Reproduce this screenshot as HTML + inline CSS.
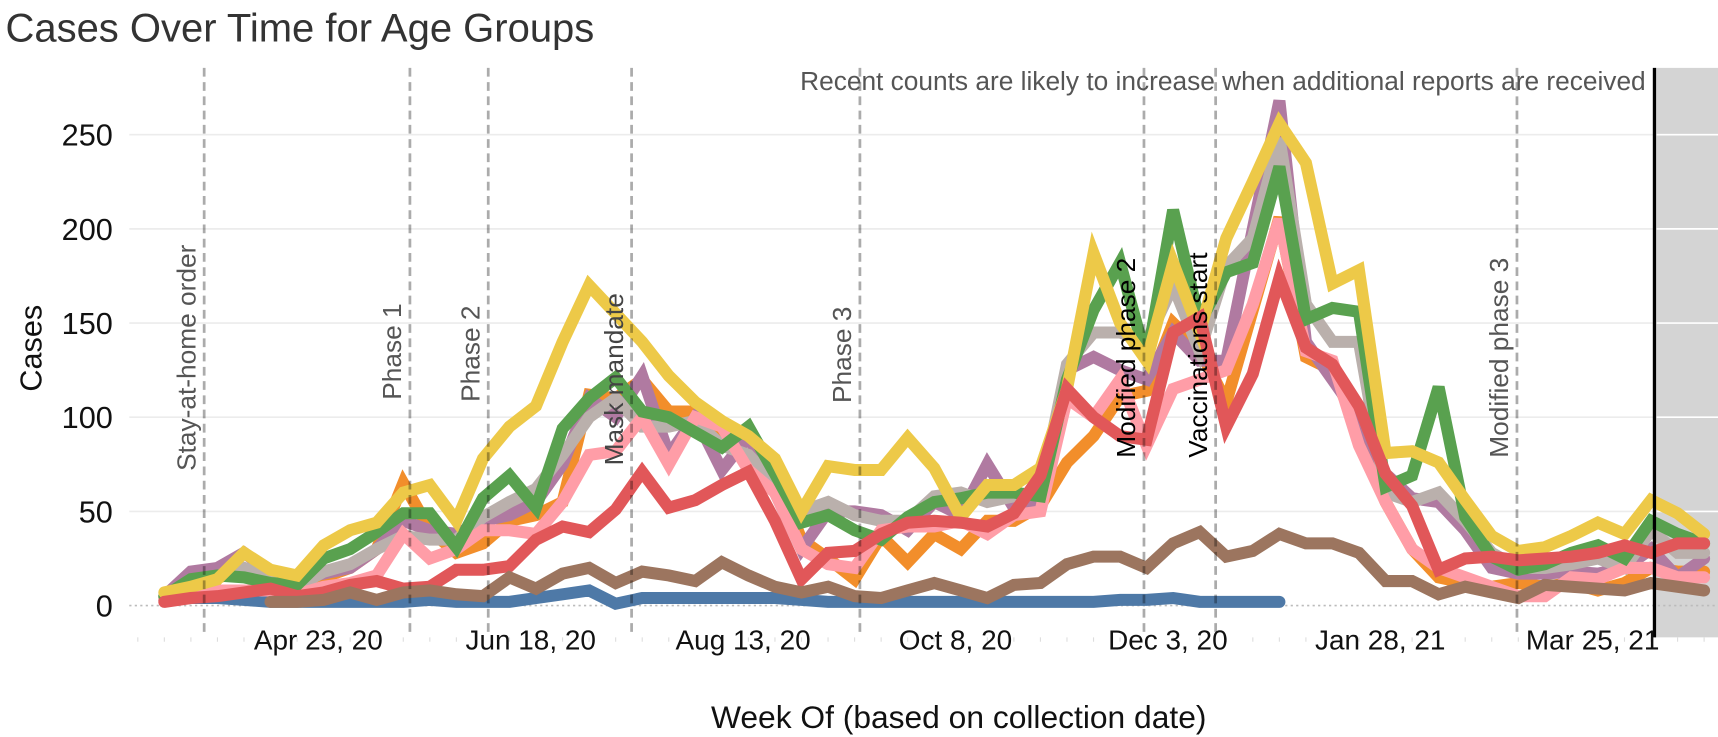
<!DOCTYPE html>
<html><head><meta charset="utf-8"><style>
html,body{margin:0;padding:0;background:#fff;}
svg{display:block;font-family:"Liberation Sans",Arial,sans-serif;}
</style></head><body>
<svg id="chart" width="1718" height="737" viewBox="0 0 1568 673" preserveAspectRatio="none" xmlns="http://www.w3.org/2000/svg">
<text x="5" y="38" font-size="36.5" fill="#333">Cases Over Time for Age Groups</text>
<rect x="1510" y="62" width="58" height="520" fill="#d4d4d4"/>
<g id="grid"></g>
<g id="series"></g>
<g id="events"></g>
<line x1="1510" y1="62" x2="1510" y2="582" stroke="#000" stroke-width="3"/>
<text x="1502" y="82" font-size="24" fill="#555" text-anchor="end">Recent counts are likely to increase when additional reports are received</text>
<text transform="translate(38,318) rotate(-90)" font-size="28" text-anchor="middle" fill="#111">Cases</text>
<text x="875" y="665" font-size="29" text-anchor="middle" fill="#111">Week Of (based on collection date)</text>
<g id="axes"></g>
</svg>
<script>
const yTicks=[0,50,100,150,200,250];
const xTickLabels=["Apr 23, 20","Jun 18, 20","Aug 13, 20","Oct 8, 20","Dec 3, 20","Jan 28, 21","Mar 25, 21"];
const xTickWeeks=[5.8,13.8,21.8,29.8,37.8,45.8,53.8];
const eventNames=["Stay-at-home order","Phase 1","Phase 2","Mask mandate","Phase 3","Modified phase 2","Vaccinations start","Modified phase 3"];
const eventWeeks=[1.5,9.25,12.2,17.6,26.2,36.9,39.6,50.95];
const blue=[3,4,4,3,2,2,2,2,2,2,3,2,2,2,4,6,8,1,4,4,4,4,4,4,3,2,2,2,2,2,2,2,2,2,2,2,3,3,4,2,2,2,2];
const orange=[4,12,15,18,12,8,15,20,30,65,40,28,33,45,48,55,112,110,120,103,103,90,90,70,35,25,14,37,23,38,30,45,45,53,76,90,111,114,150,136,108,157,206,132,125,92,55,30,15,12,10,12,10,12,8,12,20,18,18];
const purple=[5,18,20,28,18,14,17,20,30,45,40,38,45,48,55,75,110,100,122,80,100,72,90,60,30,50,50,48,40,55,48,75,52,55,125,132,125,120,145,130,130,200,268,140,120,100,70,57,55,40,20,17,17,18,17,20,30,15,25];
const gray=[5,12,15,20,15,10,18,22,30,37,35,35,47,55,62,80,100,110,95,95,98,85,80,65,50,55,48,45,45,58,60,55,58,60,128,145,145,140,170,135,180,195,248,160,140,140,60,55,60,45,28,20,20,22,25,20,40,28,28];
const pink=[3,6,8,8,8,6,10,12,16,38,25,30,40,40,38,55,80,82,100,75,100,95,72,60,30,22,20,40,42,42,45,38,48,50,110,100,120,85,115,120,125,160,205,135,130,85,55,30,20,15,10,5,5,15,14,20,20,15,15];
const green=[5,14,16,15,12,11,25,30,39,49,49,31,57,69,52,94,110,121,103,100,92,84,95,70,44,48,40,35,47,55,57,60,60,58,120,157,182,130,210,150,177,182,233,152,158,156,63,69,116,47,26,19,22,28,32,25,45,38,33];
const yellow=[7,10,14,28,19,16,32,40,44,60,64,45,78,95,106,140,170,155,140,122,108,98,90,78,50,74,72,72,89,73,47,64,64,73,115,187,150,130,182,145,195,225,256,235,171,178,81,82,76,56,37,29,31,37,44,38,56,49,38];
const red=[2,4,5,7,9,5,7,11,13,9,10,19,19,21,35,42,39,51,71,52,56,64,71,45,14,28,29,38,44,45,44,42,49,69,115,100,90,88,145,153,95,123,174,137,128,106,70,53,19,25,26,24,25,26,28,32,28,33,33];
const brown=[null,null,null,null,2,2,3,7,3,7,8,6,5,15,9,17,20,12,18,16,13,23,16,10,7,10,5,4,8,12,8,4,11,12,22,26,26,20,33,39,26,29,38,33,33,28,13,13,6,10,7,4,11,10,9,8,12,10,8];
const seriesList=[["blue",blue,"#4e79a7"],["orange",orange,"#f28e2b"],["purple",purple,"#b07aa1"],["gray",gray,"#bab0ac"],["pink",pink,"#ff9da7"],["green",green,"#59a14f"],["yellow",yellow,"#edc948"],["red",red,"#e15759"],["brown",brown,"#9c755f"]];
const NS="http://www.w3.org/2000/svg";
const xScale=i=>150+24.23*i;
const yScale=v=>553-1.72*v;
function mk(tag,attrs,parent){const e=document.createElementNS(NS,tag);for(const k in attrs)e.setAttribute(k,attrs[k]);parent.appendChild(e);return e;}
const grid=document.getElementById('grid'),axes=document.getElementById('axes'),ev=document.getElementById('events'),sg=document.getElementById('series');
yTicks.forEach(v=>{
  const y=yScale(v);
  if(v===0){const l=mk('line',{x1:118,x2:1568,y1:y,y2:y,stroke:'#bbb','stroke-width':1.5,'stroke-dasharray':'2,3'},grid);
    
    }
  else{const l=mk('line',{x1:118,x2:1510,y1:y,y2:y,stroke:'#ececec','stroke-width':1.5},grid);
    
    
    const w=mk('line',{x1:1512,x2:1568,y1:y,y2:y,stroke:'#fff','stroke-width':1.5},grid);
    
    }
  const t=mk('text',{x:103,y:y+10,'font-size':28,'text-anchor':'end',fill:'#111'},axes);
  t.textContent=v;
  
  
});
for(let i=-1;i<59;i++){const x=xScale(i);const m=mk('line',{x1:x,x2:x,y1:582,y2:586,stroke:'#ddd','stroke-width':1},axes);
  
  }
xTickLabels.forEach((lab,k)=>{
  const t=mk('text',{x:xScale(xTickWeeks[k]),y:593,'font-size':25.5,'text-anchor':'middle',fill:'#111'},axes);
  t.textContent=lab;
  
  
});
seriesList.forEach(([name,vals,col])=>{
  let d='',pen=false;
  vals.forEach((v,i)=>{if(v===null){pen=false;return;}d+=(pen?'L':'M')+xScale(i).toFixed(1)+','+yScale(v).toFixed(1);pen=true;});
  const p=mk('path',{d:d,fill:'none',stroke:col,'stroke-width':11,'stroke-linejoin':'miter','stroke-linecap':'round'},sg);
  
  
});
const evColors=["#555","#555","#555","#444","#555","#000","#000","#555"];
const evBottom=[430,365,367,425,368,418,418,418];
eventNames.forEach((n,k)=>{
  const x=xScale(eventWeeks[k]);
  const l=mk('line',{x1:x,x2:x,y1:62,y2:582,stroke:'#000','stroke-opacity':0.33,'stroke-width':2.5,'stroke-dasharray':'8,5'},ev);
  
  
  const t=mk('text',{transform:`translate(${x-8},${evBottom[k]}) rotate(-90)`,'font-size':24,fill:evColors[k]},ev);
  t.textContent=n;
  
  
});
</script>
</body></html>
